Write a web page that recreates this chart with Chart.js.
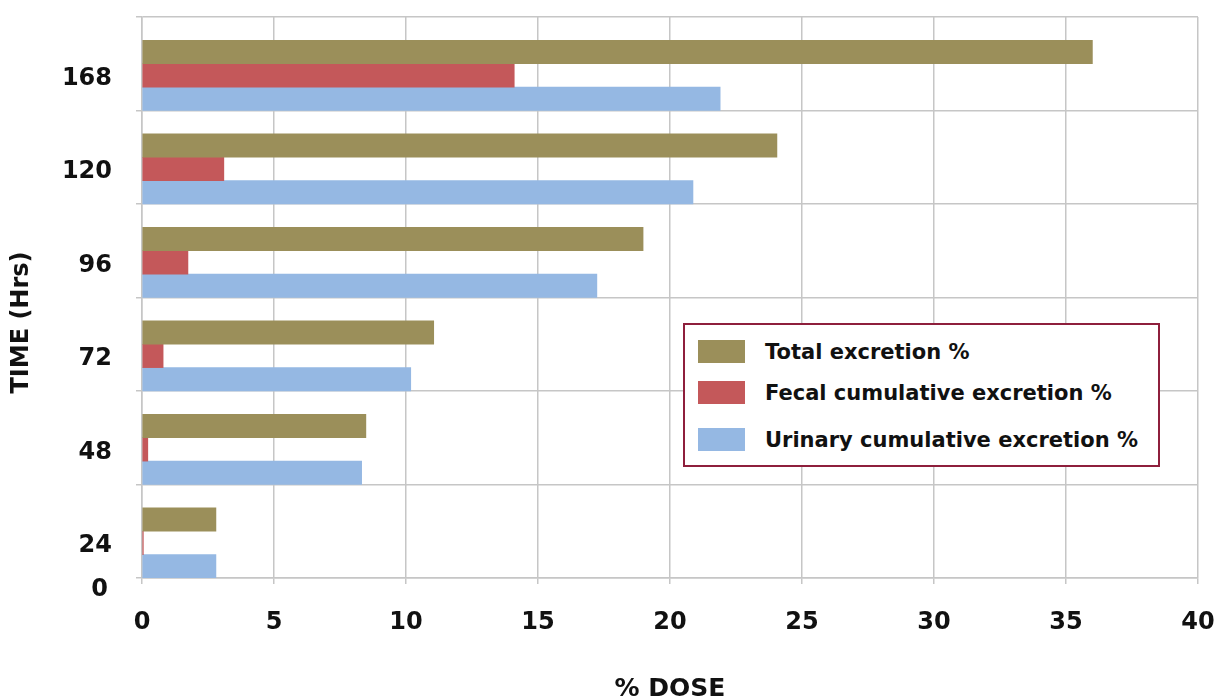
<!DOCTYPE html>
<html><head><meta charset="utf-8">
<script src="https://cdn.jsdelivr.net/npm/chart.js@4"></script>
<style>
html,body{margin:0;padding:0;background:#fff;}
#wrap{position:relative;width:1215px;height:698px;}
#legend{position:absolute;left:683px;top:323px;width:477px;height:144px;box-sizing:border-box;border:2px solid #8e1f3c;background:#fff;font:bold 21px "DejaVu Sans";color:#111;}
.item{position:absolute;left:13px;display:flex;align-items:center;height:23px;white-space:nowrap}
.sw{width:47px;height:23px;margin-right:20px;flex:none}
</style></head>
<body><div id="wrap"><canvas id="c" width="1215" height="698"></canvas><div id="legend"></div></div>
<script>
const categories = ['168', '120', '96', '72', '48', '24'];
const bottomTickLabel = '0';
const totalExcretion = [36.0, 24.05, 18.98, 11.05, 8.48, 2.8];
const fecalExcretion = [14.1, 3.1, 1.74, 0.8, 0.22, 0.05];
const urinaryExcretion = [21.9, 20.87, 17.23, 10.18, 8.32, 2.8];
const seriesNames = ['Total excretion %', 'Fecal cumulative excretion %', 'Urinary cumulative excretion %'];
const seriesColors = ['#9b8f5a', '#c4585a', '#95b8e3'];
const xTitle = '% DOSE';
const yTitle = 'TIME (Hrs)';

const FONT = 'DejaVu Sans';
const GRID = '#c6c6c6';

const extraText = {
  id: 'extraText',
  afterDraw(chart) {
    const ctx = chart.ctx, ys = chart.scales.y;
    ctx.save();
    ctx.fillStyle = '#111';
    ctx.font = 'bold 24px "' + FONT + '"';
    ctx.textAlign = 'right';
    ctx.textBaseline = 'middle';
    ctx.fillText(bottomTickLabel, ys.right - 34, ys.bottom + 12);
    ctx.translate(22, (ys.top + ys.bottom) / 2 + 25);
    ctx.rotate(-Math.PI / 2);
    ctx.textAlign = 'center';
    ctx.fillText(yTitle, 0, 0);
    ctx.restore();
  }
};

function noAutoPadding(s) {
  s.paddingTop = 0; s.paddingBottom = 0; s.paddingLeft = 0; s.paddingRight = 0;
}

const seriesData = [totalExcretion, fecalExcretion, urinaryExcretion];
const datasets = [{ label: '', data: categories.map(() => null), backgroundColor: 'rgba(0,0,0,0)' }]
  .concat(seriesNames.map((n, i) => ({ label: n, data: seriesData[i], backgroundColor: seriesColors[i] })));

const chart = new Chart(document.getElementById('c'), {
  type: 'bar',
  data: { labels: categories, datasets },
  options: {
    indexAxis: 'y',
    responsive: false,
    animation: false,
    devicePixelRatio: 1,
    layout: { padding: { top: 17, right: 17, left: 0, bottom: 0 } },
    datasets: { bar: { categoryPercentage: 1, barPercentage: 1 } },
    plugins: { legend: { display: false }, tooltip: { enabled: false } },
    scales: {
      x: {
        min: 0, max: 40,
        ticks: { stepSize: 5, color: '#111', padding: 24, font: { family: FONT, size: 24, weight: 'bold' } },
        grid: { color: GRID, lineWidth: 1.5, tickLength: 6 },
        border: { color: GRID, width: 1.5 },
        title: { display: true, text: xTitle, color: '#111', padding: 0, font: { family: FONT, size: 25, weight: 'bold', lineHeight: 0.7 } },
        afterFit(s) { s.height = 120; noAutoPadding(s); }
      },
      y: {
        ticks: { labelOffset: 15, padding: 24, color: '#111', font: { family: FONT, size: 24, weight: 'bold' } },
        grid: { offset: true, color: GRID, lineWidth: 1.5, tickLength: 6 },
        border: { color: GRID, width: 1.5 },
        afterFit(s) { s.width = 142; noAutoPadding(s); }
      }
    }
  },
  plugins: [extraText]
});

const legendTops = [15, 56, 103];
const legend = document.getElementById('legend');
chart.data.datasets.slice(1).forEach((ds, i) => {
  const item = document.createElement('div');
  item.className = 'item';
  item.style.top = legendTops[i] + 'px';
  const sw = document.createElement('span');
  sw.className = 'sw';
  sw.style.background = ds.backgroundColor;
  const tx = document.createElement('span');
  tx.textContent = ds.label;
  item.appendChild(sw); item.appendChild(tx);
  legend.appendChild(item);
});
</script>
</body></html>
